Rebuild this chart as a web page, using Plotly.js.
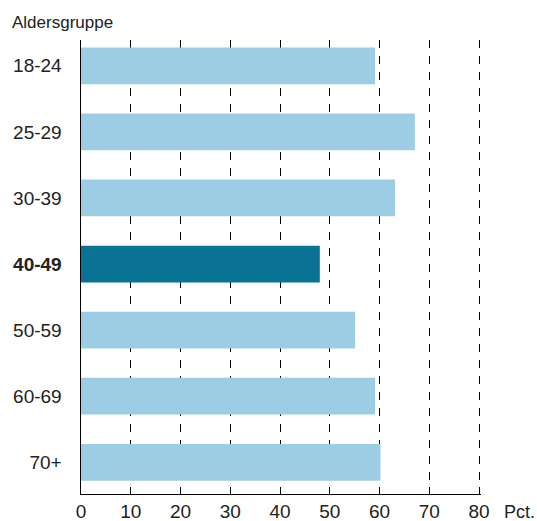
<!DOCTYPE html>
<html>
<head>
<meta charset="utf-8">
<script src="https://cdn.plot.ly/plotly-3.0.1.min.js"></script>
<style>html,body{margin:0;padding:0;background:#fff;}#chart{width:537px;height:521px;}</style>
</head>
<body>
<div id="chart"></div>
<script>
const categories = ["18-24", "25-29", "30-39", "40-49", "50-59", "60-69", "70+"];
const values = [59.1, 67.1, 63.1, 48.0, 55.1, 59.1, 60.2];
const highlight = "40-49";
const xTicks = [0, 10, 20, 30, 40, 50, 60, 70, 80];
const axisTitle = "Aldersgruppe";
const unitLabel = "Pct.";

const lightColor = "#9CCDE4";
const darkColor = "#0A7294";
const font = "Liberation Sans, Arial, sans-serif";

const trace = {
  type: "bar",
  orientation: "h",
  y: categories,
  x: values,
  marker: { color: categories.map(c => c === highlight ? darkColor : lightColor), line: { width: 0 } },
  hoverinfo: "none"
};

const layout = {
  width: 537,
  height: 521,
  margin: { l: 81, r: 56, t: 40, b: 27 },
  paper_bgcolor: "#fff",
  plot_bgcolor: "#fff",
  showlegend: false,
  bargap: 0.444,
  font: { family: font, size: 19, color: "#222" },
  title: {
    text: axisTitle,
    xref: "container", yref: "container",
    x: 12 / 537, xanchor: "left",
    y: 1 - 22 / 521, yanchor: "middle",
    font: { family: font, size: 17, color: "#222" }
  },
  xaxis: {
    range: [0, 80.4],
    tickvals: xTicks,
    ticktext: xTicks.map(String),
    ticks: "inside",
    ticklen: 7,
    tickcolor: "#000",
    tickwidth: 1,
    showline: true,
    linecolor: "#000",
    linewidth: 1,
    showgrid: true,
    gridcolor: "#000",
    gridwidth: 1,
    griddash: "8px,8px",
    zeroline: false,
    ticklabelstandoff: 0,
    tickfont: { family: font, size: 19, color: "#222" },
    fixedrange: true
  },
  yaxis: {
    type: "category",
    categoryorder: "array",
    categoryarray: categories,
    tickvals: categories,
    ticktext: categories.map(c => c === highlight ? "<b>" + c + "</b>" : c),
    range: [6.48, -0.39],
    showline: true,
    linecolor: "#000",
    linewidth: 1.5,
    ticks: "",
    ticklabelstandoff: 14,
    showgrid: false,
    zeroline: false,
    tickfont: { family: font, size: 19, color: "#222" },
    fixedrange: true
  },
  annotations: [{
    text: unitLabel,
    xref: "paper", yref: "paper",
    x: (502 - 81) / 400, xanchor: "left",
    y: -(512 - 494) / 454, yanchor: "middle",
    showarrow: false,
    font: { family: font, size: 18, color: "#222" }
  }]
};

Plotly.newPlot("chart", [trace], layout, { staticPlot: true, displayModeBar: false });
</script>
</body>
</html>
